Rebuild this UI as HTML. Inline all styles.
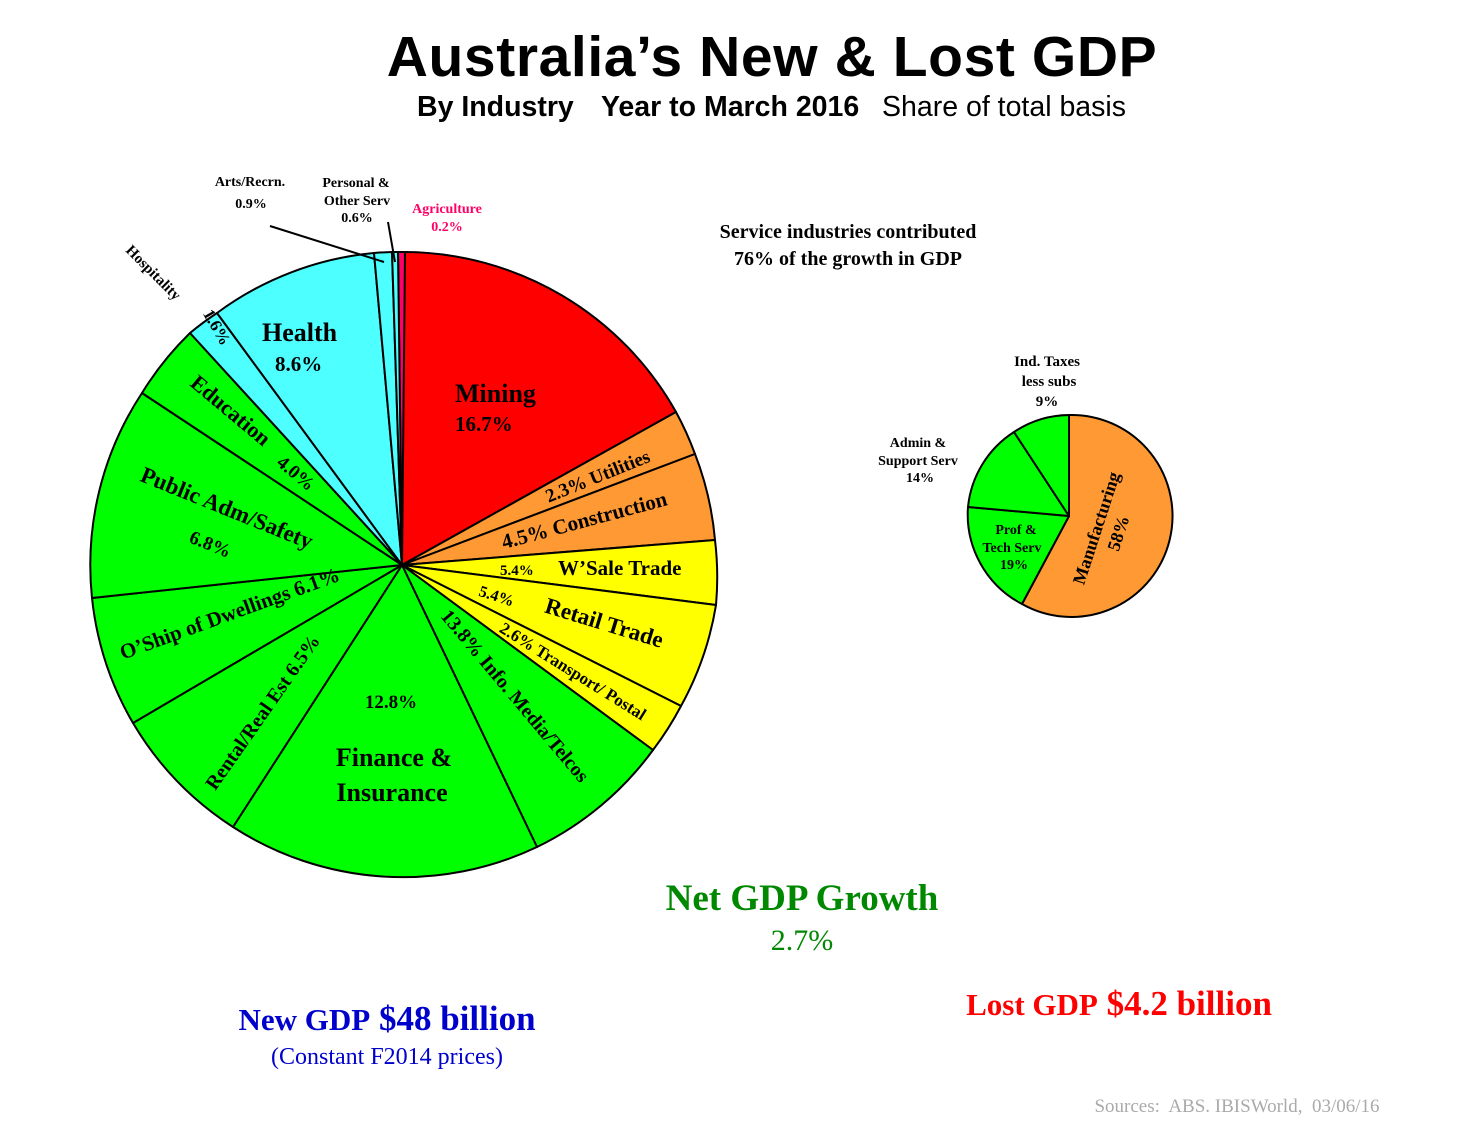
<!DOCTYPE html>
<html><head><meta charset="utf-8"><style>
html,body{margin:0;padding:0;background:#fff;}
svg{display:block;}
.s{font-family:"Liberation Serif",serif;font-weight:bold;}
</style></head><body>
<svg width="1480" height="1129" viewBox="0 0 1480 1129" xmlns="http://www.w3.org/2000/svg">
<text x="772" y="76" text-anchor="middle" font-family="Liberation Sans, sans-serif" font-weight="bold" font-size="57" letter-spacing="0.6">Australia’s New &amp; Lost GDP</text>
<text x="417" y="116" font-family="Liberation Sans, sans-serif" font-size="28.5" font-weight="bold">By Industry</text>
<text x="601" y="116" font-family="Liberation Sans, sans-serif" font-size="28.5" font-weight="bold">Year to March 2016</text>
<text x="882" y="116" font-family="Liberation Sans, sans-serif" font-size="28.5">Share of total basis</text>

<g stroke="#000" stroke-width="2" stroke-linejoin="round">
<path d="M402,565 L398,252 A313,313 0 0 1 407,252 Z" fill="#ff0066"/>
<path d="M402,565 L405,252 A313,313 0 0 1 676,412 Z" fill="#ff0000"/>
<path d="M402,565 L676,412 A313,313 0 0 1 695,454 Z" fill="#ff9933"/>
<path d="M402,565 L695,454 A313,313 0 0 1 715,540 Z" fill="#ff9933"/>
<path d="M402,565 L715,540 A313,313 0 0 1 716,605 Z" fill="#ffff00"/>
<path d="M402,565 L716,605 A313,313 0 0 1 681,706 Z" fill="#ffff00"/>
<path d="M402,565 L681,706 A313,313 0 0 1 653,750 Z" fill="#ffff00"/>
<path d="M402,565 L653,750 A313,313 0 0 1 537,847 Z" fill="#00ff00"/>
<path d="M402,565 L537,847 A313,313 0 0 1 233,827 Z" fill="#00ff00"/>
<path d="M402,565 L233,827 A313,313 0 0 1 133,723 Z" fill="#00ff00"/>
<path d="M402,565 L133,723 A313,313 0 0 1 92,598 Z" fill="#00ff00"/>
<path d="M402,565 L92,598 A313,313 0 0 1 142,393 Z" fill="#00ff00"/>
<path d="M402,565 L142,393 A313,313 0 0 1 190,333 Z" fill="#00ff00"/>
<path d="M402,565 L190,333 A313,313 0 0 1 217,313 Z" fill="#4dffff"/>
<path d="M402,565 L217,313 A313,313 0 0 1 374,253 Z" fill="#4dffff"/>
<path d="M402,565 L374,253 A313,313 0 0 1 392,252 Z" fill="#4dffff"/>
<path d="M402,565 L392,252 A313,313 0 0 1 398,252 Z" fill="#4dffff"/>
<line x1="270" y1="226" x2="384" y2="262"/>
<line x1="388" y1="222" x2="395" y2="262"/>

<path d="M1069,516 L1069,415 A101,101 0 1 1 1022,604 Z" fill="#ff9933"/>
<path d="M1069,516 L1022,604 A101,101 0 0 1 968,507 Z" fill="#00ff00"/>
<path d="M1069,516 L968,507 A101,101 0 0 1 1014,432 Z" fill="#00ff00"/>
<path d="M1069,516 L1014,432 A101,101 0 0 1 1069,415 Z" fill="#00ff00"/>
</g>

<g class="s" fill="#000">
<text x="250" y="186" font-size="14" text-anchor="middle">Arts/Recrn.</text>
<text x="251" y="208" font-size="14" text-anchor="middle">0.9%</text>
<text x="356" y="187" font-size="14" text-anchor="middle">Personal &amp;</text>
<text x="357" y="205" font-size="14" text-anchor="middle">Other Serv</text>
<text x="357" y="222" font-size="14" text-anchor="middle">0.6%</text>
<text x="447" y="213" font-size="14" text-anchor="middle" fill="#ff0066">Agriculture</text>
<text x="447" y="231" font-size="14" text-anchor="middle" fill="#ff0066">0.2%</text>
<text x="848" y="238" font-size="20" text-anchor="middle">Service industries contributed</text>
<text x="848" y="265" font-size="20" text-anchor="middle">76% of the growth in GDP</text>

<text transform="translate(150,276) rotate(45)" font-size="15" text-anchor="middle">Hospitality</text>
<text transform="translate(212,330) rotate(60)" font-size="17" text-anchor="middle">1.6%</text>
<text x="262" y="341" font-size="26">Health</text>
<text x="275" y="371" font-size="21">8.6%</text>
<text x="455" y="402" font-size="26">Mining</text>
<text x="455" y="431" font-size="21">16.7%</text>
<text transform="translate(600,482) rotate(-22)" font-size="19" text-anchor="middle">2.3% Utilities</text>
<text transform="translate(586,527) rotate(-15)" font-size="21" text-anchor="middle">4.5% Construction</text>
<text x="500" y="575" font-size="15">5.4%</text>
<text x="558" y="575" font-size="21">W’Sale Trade</text>
<text transform="translate(495,601) rotate(18)" font-size="16" text-anchor="middle">5.4%</text>
<text transform="translate(602,630) rotate(17)" font-size="23" text-anchor="middle">Retail Trade</text>
<text transform="translate(570,676) rotate(32)" font-size="17" text-anchor="middle">2.6% Transport/ Postal</text>
<text transform="translate(510,700) rotate(50)" font-size="20" text-anchor="middle">13.8% Info. Media/Telcos</text>
<text x="391" y="708" font-size="19" text-anchor="middle">12.8%</text>
<text x="394" y="766" font-size="26" text-anchor="middle">Finance &amp;</text>
<text x="392" y="801" font-size="26" text-anchor="middle">Insurance</text>
<text transform="translate(268,716) rotate(-55)" font-size="20" text-anchor="middle">Rental/Real Est 6.5%</text>
<text transform="translate(232,620) rotate(-20)" font-size="21" text-anchor="middle">O’Ship of Dwellings 6.1%</text>
<text transform="translate(224,515) rotate(22)" font-size="23" text-anchor="middle">Public Adm/Safety</text>
<text transform="translate(208,550) rotate(22)" font-size="19" text-anchor="middle">6.8%</text>
<text transform="translate(226,416) rotate(40)" font-size="22" text-anchor="middle">Education</text>
<text transform="translate(292,478) rotate(40)" font-size="19" text-anchor="middle">4.0%</text>

<text x="1047" y="366" font-size="15" text-anchor="middle">Ind. Taxes</text>
<text x="1049" y="386" font-size="15" text-anchor="middle">less subs</text>
<text x="1047" y="406" font-size="15" text-anchor="middle">9%</text>
<text x="918" y="447" font-size="14" text-anchor="middle">Admin &amp;</text>
<text x="918" y="465" font-size="14" text-anchor="middle">Support Serv</text>
<text x="920" y="482" font-size="14" text-anchor="middle">14%</text>
<text x="1016" y="534" font-size="14" text-anchor="middle">Prof &amp;</text>
<text x="1012" y="552" font-size="14" text-anchor="middle">Tech Serv</text>
<text x="1014" y="569" font-size="14" text-anchor="middle">19%</text>
<text transform="translate(1102,530) rotate(-72)" font-size="18" text-anchor="middle">Manufacturing</text>
<text transform="translate(1124,535) rotate(-72)" font-size="18" text-anchor="middle">58%</text>

<text x="802" y="910" font-size="37" text-anchor="middle" fill="#008800">Net GDP Growth</text>
<text x="802" y="950" font-size="30" text-anchor="middle" fill="#008800" font-weight="normal">2.7%</text>
<text x="387" y="1030" font-size="35" text-anchor="middle" fill="#0000cc"><tspan font-size="31">New GDP</tspan> $48 billion</text>
<text x="387" y="1064" font-size="24" text-anchor="middle" fill="#0000cc" font-weight="normal">(Constant F2014 prices)</text>
<text x="1119" y="1015" font-size="35" text-anchor="middle" fill="#ff0000"><tspan font-size="31">Lost GDP</tspan> $4.2 billion</text>
<text x="1237" y="1112" font-size="19" text-anchor="middle" fill="#aaaaaa" font-weight="normal">Sources:&#160; ABS. IBISWorld,&#160; 03/06/16</text>
</g>
</svg>
</body></html>
